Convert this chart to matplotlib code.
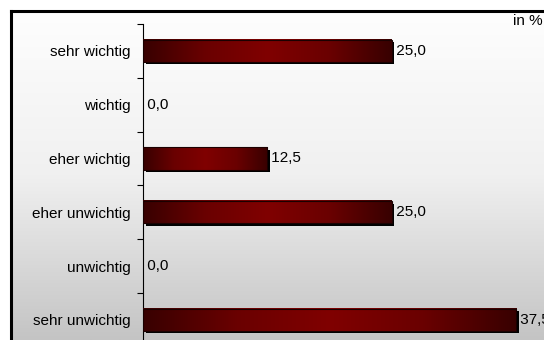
import numpy as np
import matplotlib
matplotlib.use("Agg")
import matplotlib.pyplot as plt
from matplotlib.colors import LinearSegmentedColormap
from matplotlib.patches import Rectangle
import matplotlib.transforms as mtransforms

categories = ["sehr wichtig", "wichtig", "eher wichtig",
              "eher unwichtig", "unwichtig", "sehr unwichtig"]
values = [25.0, 0.0, 12.5, 25.0, 0.0, 37.5]
unit_label = "in %"

plt.rcParams["font.family"] = ["Liberation Sans", "DejaVu Sans"]

W, H = 544, 340
fig = plt.figure(figsize=(W / 100, H / 100), dpi=100)
fig.patch.set_facecolor("white")

# background panel with vertical grey gradient (frame runs off right/bottom)
bg = fig.add_axes([11 / W, 0, 1 - 11 / W, 1 - 11 / H])
bg.set_axis_off()
grad = np.linspace(0, 1, 256).reshape(-1, 1)
bg_cmap = LinearSegmentedColormap.from_list("bg", ["#fefefe", "#f0f0f0", "#c4c4c4"])
bg.imshow(grad, cmap=bg_cmap, aspect="auto", extent=(0, 1, 0, 1), origin="upper")
bg.set_xlim(0, 1)
bg.set_ylim(0, 1)
fig.add_artist(plt.Line2D([11 / W, 11 / W], [0, 1 - 11 / H], color="black", lw=2.2,
                          transform=fig.transFigure, solid_capstyle="projecting"))
fig.add_artist(plt.Line2D([11 / W, 1], [1 - 11 / H, 1 - 11 / H], color="black", lw=2.2,
                          transform=fig.transFigure, solid_capstyle="projecting"))

# main axes
cat_h = 53.8
ax_top = 24
ax_h = cat_h * len(categories)
ax = fig.add_axes([143 / W, (H - ax_top - ax_h) / H, 398 / W, ax_h / H])
ax.patch.set_visible(False)

bar_cmap = LinearSegmentedColormap.from_list("bar", ["#380000", "#6a0000", "#800000", "#6a0000", "#380000"])
h = 0.41
y = np.arange(len(categories))

shadow = mtransforms.offset_copy(ax.transData, fig=fig, x=2.5, y=-2.5, units="dots")
ax.barh(y, values, height=h, color="black", transform=shadow, zorder=2)
for yi, v in zip(y, values):
    label = " " + f"{v:.1f}".replace(".", ",")
    if v > 0:
        ax.imshow(np.linspace(0, 1, 256).reshape(1, -1), cmap=bar_cmap, aspect="auto",
                  extent=(0, v, yi + h / 2, yi - h / 2), zorder=3)
        ax.add_patch(Rectangle((0, yi - h / 2), v, h, fill=False, ec="#1a0000", lw=0.8, zorder=4))
    ax.text(v, yi, label, ha="left", va="center", fontsize=11, zorder=5)

ax.set_xlim(0, 40)
ax.set_ylim(len(categories) - 0.5, -0.5)

for s in ["top", "right", "bottom"]:
    ax.spines[s].set_visible(False)
ax.spines["left"].set_linewidth(0.8)
ax.set_xticks([])
ax.set_yticks(y)
ax.set_yticklabels(categories, fontsize=11)
ax.tick_params(axis="y", which="major", length=0, pad=9)
ax.set_yticks(np.arange(-0.5, len(categories) - 0.4, 1), minor=True)
ax.tick_params(axis="y", which="minor", length=4, width=0.8, direction="out")

fig.text(513 / W, 1 - 14 / H, unit_label, ha="left", va="top", fontsize=11)

fig.savefig("out.png", dpi=100)
